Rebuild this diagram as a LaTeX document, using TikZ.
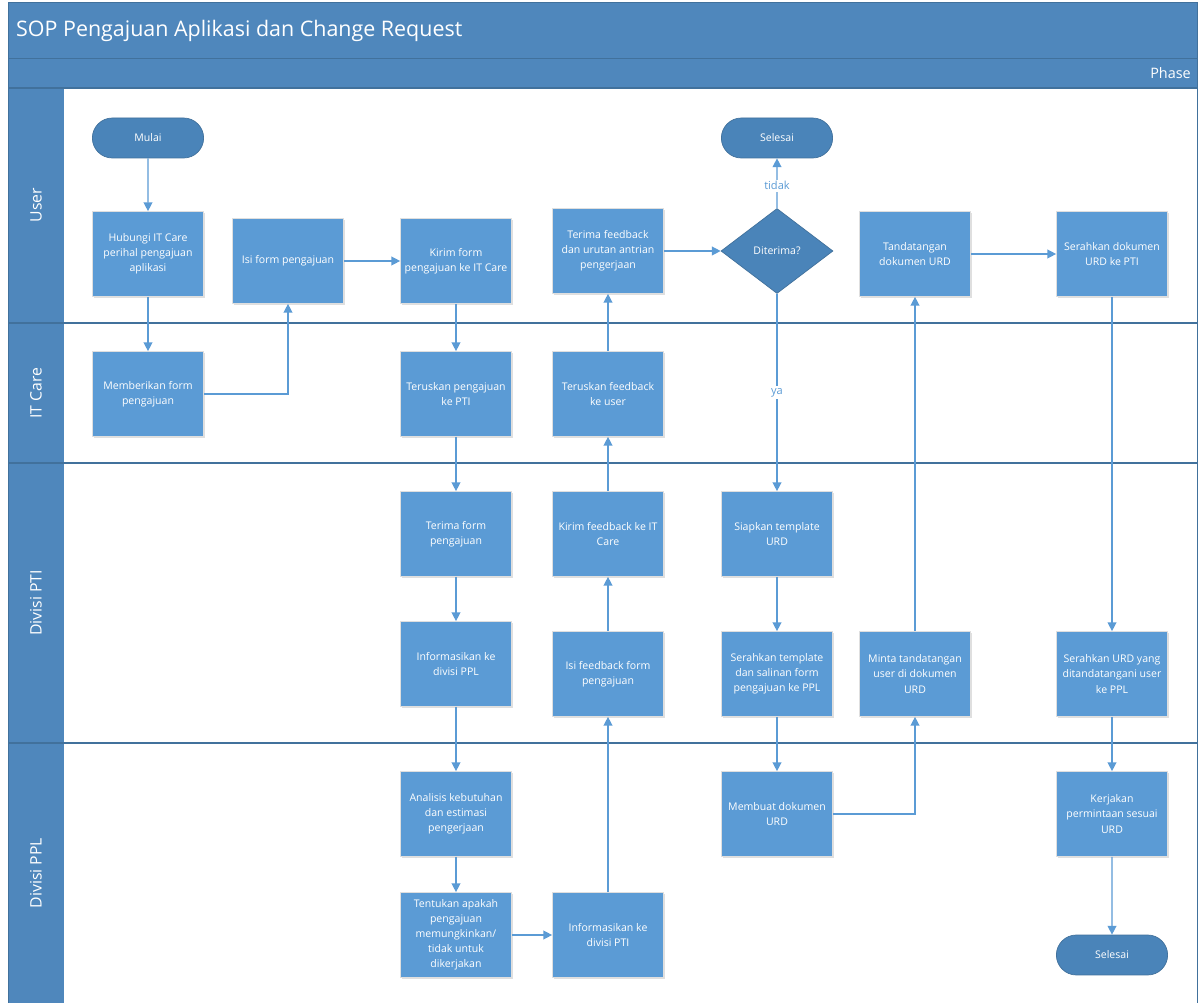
\documentclass[tikz,border=0pt]{standalone}
\usepackage{fontspec}
\setmainfont{Open Sans}
\usetikzlibrary{shapes.geometric,shapes.misc,arrows.meta,shadows}
\definecolor{headblue}{HTML}{4F87BC}
\definecolor{boxblue}{HTML}{5B9BD5}
\definecolor{termblue}{HTML}{4A84B9}
\definecolor{laneline}{HTML}{41719C}
\tikzset{
  stepbox/.style={rectangle, draw=white!75!gray, fill=boxblue, text=white,
    minimum width=2.22cm, minimum height=1.7cm, align=center,
    font=\fontsize{6}{8.6}\selectfont, inner sep=1pt,
    drop shadow={shadow xshift=0.6pt, shadow yshift=-0.6pt, opacity=0.25}},
  termbox/.style={rounded rectangle, draw=laneline, fill=termblue, text=white,
    minimum width=2.46cm, minimum height=0.8cm, font=\fontsize{6}{8.6}\selectfont},
  decbox/.style={diamond, draw=laneline, fill=termblue, text=white, aspect=1.32,
    minimum width=2.24cm, minimum height=1.7cm, inner sep=0pt,
    font=\fontsize{6}{8.6}\selectfont},
  flow/.style={draw=boxblue, line width=0.75pt, -{Triangle[length=5pt,width=5pt]}},
  edgelabel/.style={fill=white, text=boxblue, inner sep=1pt, font=\fontsize{6.3}{8}\selectfont},
  lanelabel/.style={rotate=90, text=white, font=\fontsize{9}{10}\selectfont}
}
\begin{document}
\begin{tikzpicture}[x=0.02cm,y=-0.02cm]
  \useasboundingbox (0,0) rectangle (1198,1003);
  % frame, header and lane labels
  \fill[white] (8,2) rectangle (1197,1003);
  \fill[headblue] (8,2) rectangle (1197,88);
  \fill[headblue] (8,88) rectangle (64,1003);
  \draw[laneline, line width=0.5pt] (8,58) -- (1197,58);
  \draw[laneline, line width=0.5pt] (8,2) rectangle (1197,1003);
  \draw[laneline, line width=0.7pt] (8,88) -- (1197,88);
  \draw[laneline, line width=0.7pt] (8,323) -- (1197,323);
  \draw[laneline, line width=0.7pt] (8,463) -- (1197,463);
  \draw[laneline, line width=0.7pt] (8,743) -- (1197,743);
  \node[anchor=west, text=white, font=\fontsize{12.2}{14}\selectfont] (title) at (10,31) {SOP Pengajuan Aplikasi dan Change Request};
  \node[anchor=east, text=white, font=\fontsize{8.2}{10}\selectfont] (phase) at (1197,73) {Phase};
  \node[lanelabel] (laneuser) at (36,205) {User};
  \node[lanelabel] (laneitc) at (36,393) {IT Care};
  \node[lanelabel] (lanepti) at (36,603) {Divisi PTI};
  \node[lanelabel] (laneppl) at (36,873) {Divisi PPL};

  % User
  \node[termbox] (mulai) at (148,138) {Mulai};
  \node[stepbox] (hubungi) at (148,254) {Hubungi IT Care\\perihal pengajuan\\aplikasi};
  \node[stepbox] (isiform) at (288,261) {Isi form pengajuan};
  \node[stepbox] (kirimform) at (456,261) {Kirim form\\pengajuan ke IT Care};
  \node[stepbox] (terimafb) at (608,251) {Terima feedback\\dan urutan antrian\\pengerjaan};
  \node[decbox] (diterima) at (777,251) {Diterima?};
  \node[termbox] (selesaia) at (777,138) {Selesai};
  \node[stepbox] (ttd) at (915,254) {Tandatangan\\dokumen URD};
  \node[stepbox] (serahpti) at (1112,254) {Serahkan dokumen\\URD ke PTI};

  % IT Care
  \node[stepbox] (memberikan) at (148,394) {Memberikan form\\pengajuan};
  \node[stepbox] (teruskanpti) at (456,394) {Teruskan pengajuan\\ke PTI};
  \node[stepbox] (teruskanfb) at (608,394) {Teruskan feedback\\ke user};

  % Divisi PTI
  \node[stepbox] (terimaform) at (456,534) {Terima form\\pengajuan};
  \node[stepbox] (infoppl) at (456,664) {Informasikan ke\\divisi PPL};
  \node[stepbox] (kirimfb) at (608,534) {Kirim feedback ke IT\\Care};
  \node[stepbox] (isifb) at (608,674) {Isi feedback form\\pengajuan};
  \node[stepbox] (siapkan) at (777,534) {Siapkan template\\URD};
  \node[stepbox] (serahtpl) at (777,674) {Serahkan template\\dan salinan form\\pengajuan ke PPL};
  \node[stepbox] (minta) at (915,674) {Minta tandatangan\\user di dokumen\\URD};
  \node[stepbox] (serahppl) at (1112,674) {Serahkan URD yang\\ditandatangani user\\ke PPL};

  % Divisi PPL
  \node[stepbox] (analisis) at (456,814) {Analisis kebutuhan\\dan estimasi\\pengerjaan};
  \node[stepbox] (tentukan) at (456,935) {Tentukan apakah\\pengajuan\\memungkinkan/\\tidak untuk\\dikerjakan};
  \node[stepbox] (infopti) at (608,935) {Informasikan ke\\divisi PTI};
  \node[stepbox] (membuat) at (777,814) {Membuat dokumen\\URD};
  \node[stepbox] (kerjakan) at (1112,814) {Kerjakan\\permintaan sesuai\\URD};
  \node[termbox] (selesaib) at (1112,955) {Selesai};

  % connectors
  \draw[flow] (mulai) -- (hubungi);
  \draw[flow] (hubungi) -- (memberikan);
  \draw[flow] (memberikan.east) -| (isiform.south);
  \draw[flow] (isiform) -- (kirimform);
  \draw[flow] (kirimform) -- (teruskanpti);
  \draw[flow] (teruskanpti) -- (terimaform);
  \draw[flow] (terimaform) -- (infoppl);
  \draw[flow] (infoppl) -- (analisis);
  \draw[flow] (analisis) -- (tentukan);
  \draw[flow] (tentukan) -- (infopti);
  \draw[flow] (infopti) -- (isifb);
  \draw[flow] (isifb) -- (kirimfb);
  \draw[flow] (kirimfb) -- (teruskanfb);
  \draw[flow] (teruskanfb) -- (terimafb);
  \draw[flow] (terimafb) -- (diterima);
  \draw[flow] (diterima) -- node[edgelabel, pos=0.45] {tidak} (selesaia);
  \draw[flow] (diterima) -- node[edgelabel, pos=0.5] {ya} (siapkan);
  \draw[flow] (siapkan) -- (serahtpl);
  \draw[flow] (serahtpl) -- (membuat);
  \draw[flow] (membuat.east) -| (minta.south);
  \draw[flow] (minta) -- (ttd);
  \draw[flow] (ttd) -- (serahpti);
  \draw[flow] (serahpti) -- (serahppl);
  \draw[flow] (serahppl) -- (kerjakan);
  \draw[flow] (kerjakan) -- (selesaib);
\end{tikzpicture}
\end{document}
